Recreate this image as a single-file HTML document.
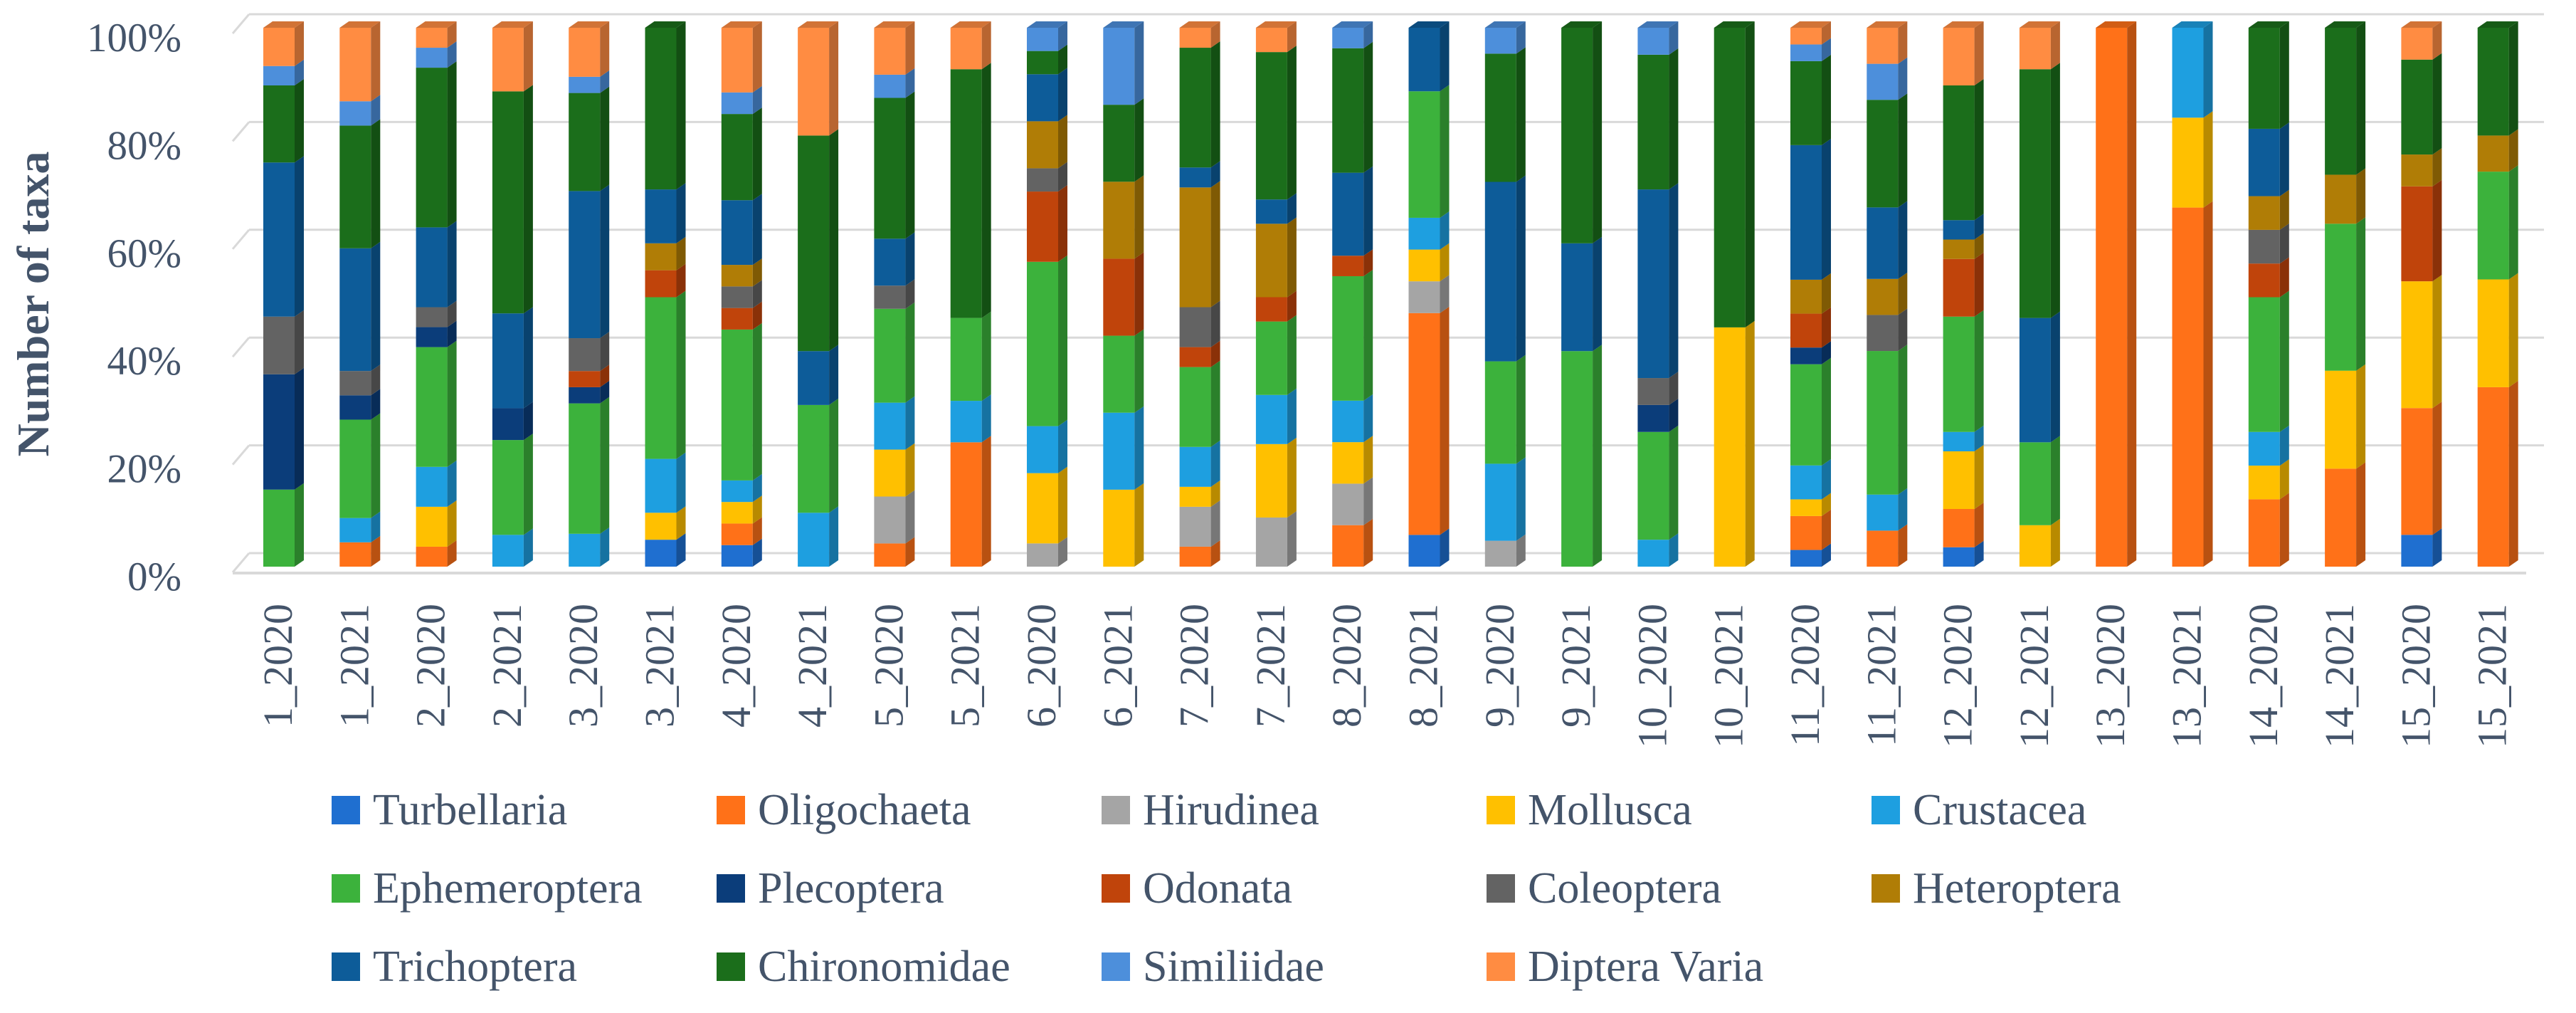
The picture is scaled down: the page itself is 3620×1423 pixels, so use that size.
<!DOCTYPE html>
<html><head><meta charset="utf-8"><style>
html,body{margin:0;padding:0;background:#fff;}
svg{display:block;font-family:"Liberation Serif",serif;}
</style></head><body>
<svg id="chart" width="3620" height="1423" viewBox="0 0 3620 1423" xmlns="http://www.w3.org/2000/svg">
<g id="grid"></g>
<g id="bars"></g>
<g id="yaxis"></g>
<g id="xaxis"></g>
<text transform="translate(68,427) rotate(-90)" text-anchor="middle" font-size="64" font-weight="bold" fill="#44546a">Number of taxa</text>
<g id="legend"></g>
</svg>
<script>
const categories = ["1_2020","1_2021","2_2020","2_2021","3_2020","3_2021","4_2020","4_2021","5_2020","5_2021","6_2020","6_2021","7_2020","7_2021","8_2020","8_2021","9_2020","9_2021","10_2020","10_2021","11_2020","11_2021","12_2020","12_2021","13_2020","13_2021","14_2020","14_2021","15_2020","15_2021"];
const seriesNames = ["Turbellaria","Oligochaeta","Hirudinea","Mollusca","Crustacea","Ephemeroptera","Plecoptera","Odonata","Coleoptera","Heteroptera","Trichoptera","Chironomidae","Similiidae","Diptera Varia"];
const seriesColors = ["#1f6fd0","#ff7118","#a5a5a5","#ffc000","#1e9fe0","#3cb23c","#0b3d7a","#c0440b","#636363","#b07d06","#0d5c99","#1b6e1b","#4d8fdb","#ff8c42"];
const turbellaria = [0,0,0,0,0,5,4,0,0,0, 0,0,0,0,0,5.9,0,0,0,0, 3.1,0,3.6,0,0,0,0,0,5.9,0];
const oligochaeta = [0,4.5,3.7,0,0,0,4,0,4.3,23.1, 0,0,3.7,0,7.7,41.2,0,0,0,0, 6.3,6.7,7.1,0,100,66.7,12.5,18.2,23.5,33.3];
const hirudinea = [0,0,0,0,0,0,0,0,8.7,0, 4.3,0,7.4,9.1,7.7,5.9,4.8,0,0,0, 0,0,0,0,0,0,0,0,0,0];
const mollusca = [0,0,7.4,0,0,5,4,0,8.7,0, 13,14.3,3.7,13.6,7.7,5.9,0,0,0,44.4, 3.1,0,10.7,7.7,0,16.7,6.25,18.2,23.5,20];
const crustacea = [0,4.5,7.4,5.9,6.1,10,4,10,8.7,7.7, 8.7,14.3,7.4,9.1,7.7,5.9,14.3,0,5,0, 6.3,6.7,3.6,0,0,16.7,6.25,0,0,0];
const ephemeroptera = [14.3,18.2,22.2,17.6,24.2,30,28,20,17.4,15.4, 30.4,14.3,14.8,13.6,23.1,23.5,19,40,20,0, 18.8,26.7,21.4,15.4,0,0,25,27.3,0,20];
const plecoptera = [21.4,4.5,3.7,5.9,3,0,0,0,0,0, 0,0,0,0,0,0,0,0,5,0, 3.1,0,0,0,0,0,0,0,0,0];
const odonata = [0,0,0,0,3,5,4,0,0,0, 13,14.3,3.7,4.5,3.8,0,0,0,0,0, 6.3,0,10.7,0,0,0,6.25,0,17.6,0];
const coleoptera = [10.7,4.5,3.7,0,6.1,0,4,0,4.3,0, 4.3,0,7.4,0,0,0,0,0,5,0, 0,6.7,0,0,0,0,6.25,0,0,0];
const heteroptera = [0,0,0,0,0,5,4,0,0,0, 8.7,14.3,22.2,13.6,0,0,0,0,0,0, 6.3,6.7,3.6,0,0,0,6.25,9.1,5.9,6.7];
const trichoptera = [28.6,22.7,14.8,17.6,27.3,10,12,10,8.7,0, 8.7,0,3.7,4.5,15.4,11.8,33.3,20,35,0, 25,13.3,3.6,23.1,0,0,12.5,0,0,0];
const chironomidae = [14.3,22.7,29.6,41.2,18.2,30,16,40,26.1,46.2, 4.3,14.3,22.2,27.3,23.1,0,23.8,40,25,55.6, 15.6,20,25,46.2,0,0,18.75,27.3,17.6,20];
const similiidae = [3.6,4.5,3.7,0,3,0,4,0,4.3,0, 4.3,14.3,0,0,3.8,0,4.8,0,5,0, 3.1,6.7,0,0,0,0,0,0,0,0];
const dipteraVaria = [7.1,13.6,3.7,11.8,9.1,0,12,20,8.7,7.7, 0,0,3.7,4.5,0,0,0,0,0,0, 3.1,6.7,10.7,7.7,0,0,0,0,5.9,0];
const yTicks = [0,20,40,60,80,100];
const yTickLabels = ["0%","20%","40%","60%","80%","100%"];

const series = [turbellaria,oligochaeta,hirudinea,mollusca,crustacea,ephemeroptera,plecoptera,odonata,coleoptera,heteroptera,trichoptera,chironomidae,similiidae,dipteraVaria];
const NS = "http://www.w3.org/2000/svg";
function mk(tag, attrs, parent){ const e=document.createElementNS(NS,tag); for(const k in attrs) e.setAttribute(k,attrs[k]); parent.appendChild(e); return e; }
function shade(hex, f){ const n=parseInt(hex.slice(1),16); let r=n>>16,g=(n>>8)&255,b=n&255; r=Math.round(r*f);g=Math.round(g*f);b=Math.round(b*f); return "rgb("+Math.min(255,r)+","+Math.min(255,g)+","+Math.min(255,b)+")"; }
const frontBottom = 796, frontHeight = 757, backOff = 19;
function yFront(v){ return frontBottom - frontHeight*v/100; }
const barX0 = 370, barPitch = 107.3, barW = 44, dx = 13, dy = 9;
function xBar(i){ return barX0 + barPitch*i; }

const grid = document.getElementById('grid');
yTicks.forEach(function(v){
  const yb = yFront(v) - backOff;
  const l = mk('line',{x1:350,y1:yb,x2:3575,y2:yb,stroke:"#d9d9d9","stroke-width":3},grid);
  
  
  const d = mk('line',{x1:327,y1:yb+27,x2:350,y2:yb,stroke:"#d9d9d9","stroke-width":3},grid);
  
  
});
const floor = mk('line',{x1:327,y1:805,x2:3550,y2:805,stroke:"#d9d9d9","stroke-width":4},grid);



const yax = document.getElementById('yaxis');
yTicks.forEach(function(v,i){
  const t = mk('text',{x:255,y:yFront(v)+33,"text-anchor":"end","font-size":57,fill:"#44546a"},yax);
  t.textContent = yTickLabels[i];
  
  
});

const barsG = document.getElementById('bars');
categories.forEach(function(cat,i){
  let total = 0; series.forEach(function(s){ total += s[i]; });
  const g = mk('g',{},barsG);
  
  
  let cum = 0; const x = xBar(i);
  let lastTop = null, lastColor = null;
  series.forEach(function(s,k){
    const v = s[i]; if(v<=0) return;
    const y1 = yFront((cum)/total*100), y0 = yFront((cum+v)/total*100);
    cum += v;
    const c = seriesColors[k];
    const r = mk('rect',{x:x,y:y0,width:barW,height:y1-y0,fill:c},g);
    
    
    const p = mk('polygon',{points:(x+barW)+","+y0+" "+(x+barW+dx)+","+(y0-dy)+" "+(x+barW+dx)+","+(y1-dy)+" "+(x+barW)+","+y1,fill:shade(c,0.72)},g);
    
    
    lastTop = y0; lastColor = c;
  });
  if(lastTop!==null){
    const tp = mk('polygon',{points:x+","+lastTop+" "+(x+dx)+","+(lastTop-dy)+" "+(x+barW+dx)+","+(lastTop-dy)+" "+(x+barW)+","+lastTop,fill:shade(lastColor,0.82)},g);
    
    
  }
  const lbl = mk('text',{transform:"translate("+(x+barW/2+18)+",848) rotate(-90)","text-anchor":"end","font-size":58,fill:"#44546a"},document.getElementById('xaxis'));
  lbl.textContent = cat;
  
  
});

const leg = document.getElementById('legend');
seriesNames.forEach(function(n,k){
  const col = k%5, row = Math.floor(k/5);
  const sx = 466 + 541*col, sy = 1118 + 110*row;
  const g = mk('g',{},leg);
  
  
  const r = mk('rect',{x:sx,y:sy,width:40,height:40,fill:seriesColors[k]},g);
  
  
  const t = mk('text',{x:sx+58,y:sy+40,"font-size":62,fill:"#44546a"},g);
  t.textContent = n;
  
  
});
</script>
</body></html>
